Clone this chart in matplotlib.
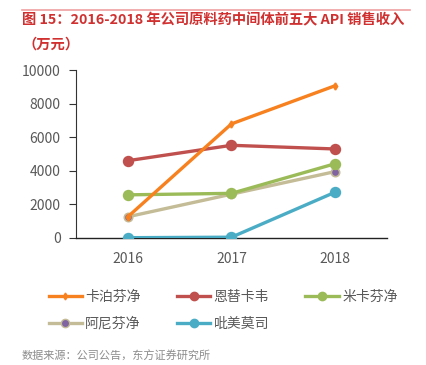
import matplotlib
matplotlib.use("Agg")
import matplotlib.pyplot as plt
from matplotlib.lines import Line2D

plt.rcParams['font.family'] = ['Noto Sans CJK SC', 'DejaVu Sans']

years = ["2016", "2017", "2018"]
series_names = ["卡泊芬净", "恩替卡韦", "米卡芬净", "阿尼芬净", "吡美莫司"]
caspofungin = [1250, 6800, 9080]
entecavir = [4600, 5520, 5300]
micafungin = [2560, 2650, 4420]
anidulafungin = [1250, 2600, 3950]
pimecrolimus = [0, 30, 2720]
yticks = [0, 2000, 4000, 6000, 8000, 10000]

title1 = "图 15：2016-2018 年公司原料药中间体前五大 API 销售收入"
title2 = "（万元）"
source = "数据来源：公司公告，东方证券研究所"

fig = plt.figure(figsize=(4.26, 3.65), dpi=100)
ax = fig.add_axes([76/426, 1-237.7/365, (387-76)/426, (237.7-70.3)/365])

x = list(range(len(years)))
styles = [
    (caspofungin, "#F7801F", "#F7801F", "d", 3.5, 3),
    (entecavir, "#C0504D", "#C0504D", "o", 7, 2),
    (micafungin, "#9BBB59", "#9BBB59", "o", 7, 2),
    (anidulafungin, "#C4BC96", "#8064A2", "o", 6, 1),
    (pimecrolimus, "#4BACC6", "#4BACC6", "o", 7, 2),
]
handles = []
for (vals, lc, mc, m, ms, z), name in zip(styles, series_names):
    mec = "#C4BC96" if name == "阿尼芬净" else mc
    ax.plot(x, vals, color=lc, lw=2.4, marker=m, ms=ms, mfc=mc, mec=mec,
            mew=1.2, zorder=z + 2, solid_capstyle='round')
    handles.append(Line2D([0], [0], color=lc, lw=2.4, marker=m,
                          ms=(ms if m == "d" else 6),
                          mfc=mc, mec=mec, mew=1.0))

ax.set_xlim(-0.5, 2.5)
ax.set_ylim(0, 10000)
ax.set_xticks(x)
ax.set_xticklabels(years)
ax.set_yticks(yticks)
ax.set_yticklabels([str(v) for v in yticks])
for s in ["top", "right"]:
    ax.spines[s].set_visible(False)
ax.spines["left"].set_color("#333333")
ax.spines["bottom"].set_color("#222222")
ax.spines["left"].set_linewidth(0.8)
ax.spines["bottom"].set_linewidth(1.0)
ax.tick_params(axis="x", length=0, pad=10, labelsize=10, labelcolor="#595959")
ax.tick_params(axis="y", length=5, width=0.8, color="#333333", pad=6,
               labelsize=10, labelcolor="#595959")
ax.patch.set_alpha(0)

fig.add_artist(Line2D([22/426, 410/426], [1-10/365, 1-10/365],
                      color="#F0A0A0", lw=1.2))
fig.text(22/426, 1-20/365, title1, color="#D03030", fontsize=10.3,
         va="center", ha="left", fontweight="bold")
fig.text(22/426, 1-45/365, title2, color="#D03030", fontsize=10.3,
         va="center", ha="left", fontweight="bold")

# legend laid out row-wise (matplotlib fills columns first)
order = [0, 3, 1, 4, 2]
leg = fig.legend([handles[i] for i in order], [series_names[i] for i in order],
                 loc="upper left", ncol=3,
                 bbox_to_anchor=(43/426, 1-284/365), frameon=False,
                 fontsize=10, handlelength=2.4, columnspacing=2.6,
                 handletextpad=0.25, labelspacing=0.95, borderaxespad=0)
for t in leg.get_texts():
    t.set_color("#595959")

fig.text(22/426, 1-356/365, source, color="#8C8C8C", fontsize=8,
         va="center", ha="left")

fig.savefig("out.png", dpi=100)
